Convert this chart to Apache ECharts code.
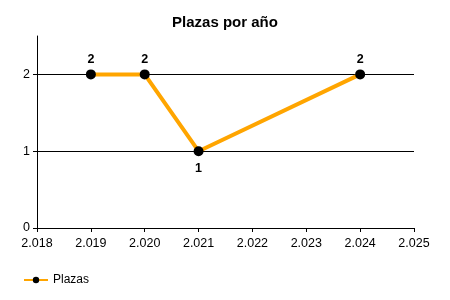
<!DOCTYPE html>
<html><head><meta charset="utf-8">
<script src="https://cdn.jsdelivr.net/npm/echarts@6/dist/echarts.min.js"></script>
<style>html,body{margin:0;padding:0;background:#fff}#c{width:450px;height:300px}</style>
</head><body><div id="c"></div>
<script>
const years = [2019, 2020, 2021, 2024];
const plazas = [2, 2, 1, 2];
const yTicks = [0, 1, 2];
const seriesName = 'Plazas';
const titleText = 'Plazas por año';

const fmt = v => String(v).replace(/^(\d)(\d{3})$/, '$1.$2');
const chart = echarts.init(document.getElementById('c'), null, {renderer: 'canvas'});
const FONT = 'Liberation Sans, Arial, sans-serif';
const d = years.map((y, i) => {
  const prev = i > 0 ? plazas[i-1] : plazas[i];
  const next = i < plazas.length-1 ? plazas[i+1] : plazas[i];
  const below = plazas[i] < prev && plazas[i] <= next;
  return below ? {value: [y, plazas[i]], label: {position: 'bottom', distance: 6}} : [y, plazas[i]];
});
chart.setOption({
  animation: false,
  backgroundColor: '#fff',
  title: {text: titleText, left: 'center', top: 10, textStyle: {fontFamily: FONT, fontSize: 15, fontWeight: 'bold', color: '#000'}},
  grid: {left: 37, right: 36, top: 36, bottom: 72, containLabel: false},
  legend: {left: 18, bottom: 9, itemWidth: 24, itemHeight: 8, itemGap: 6, textStyle: {fontFamily: FONT, fontSize: 12, color: '#000'}, data: [seriesName]},
  xAxis: {
    type: 'value', min: 2018, max: 2025, interval: 1,
    axisLine: {show: true, lineStyle: {color: '#000', width: 1}},
    axisTick: {show: true, length: 4, lineStyle: {color: '#000'}},
    axisLabel: {formatter: fmt, fontFamily: FONT, fontSize: 12.5, color: '#000', margin: 9},
    splitLine: {show: false}
  },
  yAxis: {
    type: 'value', min: 0, max: 2.5, interval: 1,
    axisLine: {show: true, lineStyle: {color: '#000', width: 1}},
    axisTick: {show: true, length: 4, lineStyle: {color: '#000'}, customValues: yTicks},
    axisLabel: {fontFamily: FONT, fontSize: 12.5, color: '#000', margin: 7, customValues: yTicks},
    splitLine: {show: true, showMinLine: false, showMaxLine: true, lineStyle: {color: '#000', width: 1}}
  },
  series: [{
    name: seriesName, type: 'line',
    data: d,
    symbol: 'circle', symbolSize: 10,
    itemStyle: {color: '#000'},
    lineStyle: {color: '#FFA500', width: 4},
    label: {show: true, fontFamily: FONT, fontSize: 12.5, fontWeight: 'bold', color: '#000',
      position: 'top', distance: 3,
      formatter: p => String(p.value[1])},
    z: 3
  }]
});
</script></body></html>
